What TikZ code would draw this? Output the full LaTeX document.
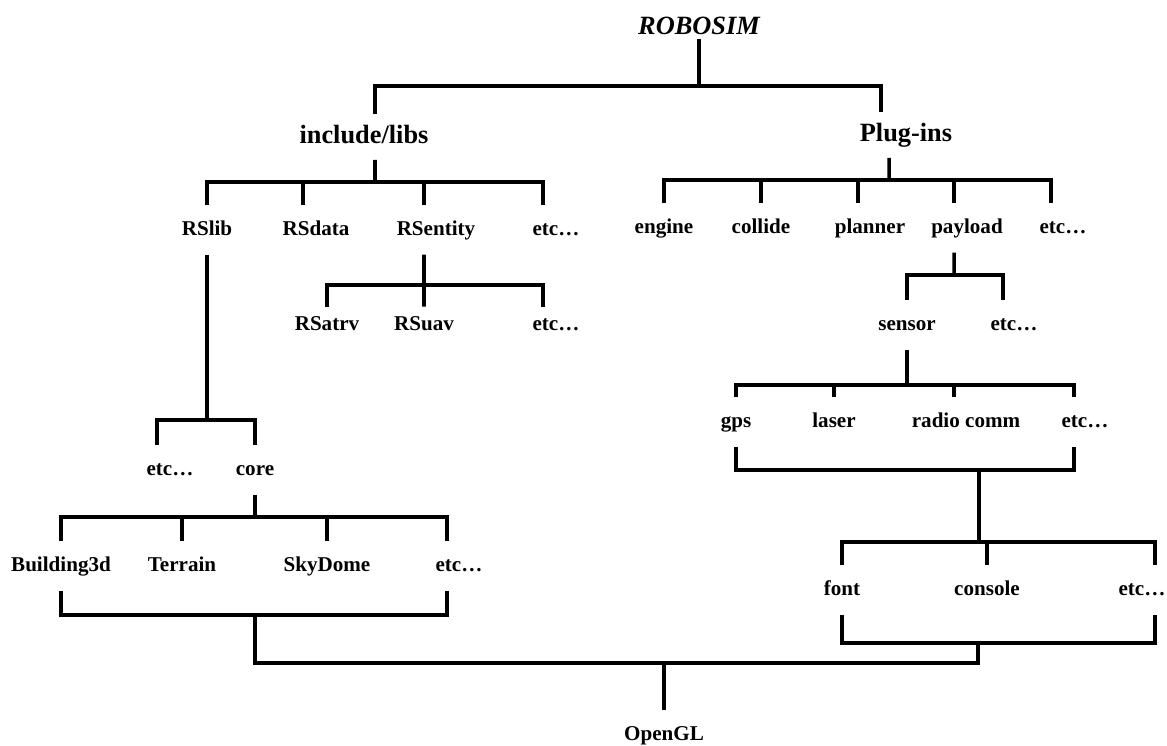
\documentclass[tikz,border=0pt]{standalone}
\usepackage{fontspec}
\setmainfont{Liberation Serif}

\begin{document}
\begin{tikzpicture}[x=0.02cm,y=-0.02cm,line width=2pt]
    \tikzstyle{lbl}=[font=\fontsize{12}{14}\selectfont\bfseries, inner sep=0pt, text height=8.5pt, text depth=2.5pt, minimum height=26pt]
    \tikzstyle{head}=[font=\fontsize{15}{18}\selectfont\bfseries, inner sep=0pt, text height=10.5pt, text depth=3pt, minimum height=24pt]
    \useasboundingbox (0,0) rectangle (1167,745);

    % root and first level
    \node[head, font=\fontsize{15}{18}\selectfont\bfseries\itshape, minimum height=0pt, text depth=0pt, inner sep=1.5pt] (robosim) at (699,25) {ROBOSIM};
    \node[head] (libs)    at (364,137) {include/libs};
    \node[head] (plugins) at (906,135) {Plug-ins};

    % include/libs branch
    \node[lbl] (rslib)    at (207,230) {RSlib};
    \node[lbl] (rsdata)   at (316,230) {RSdata};
    \node[lbl] (rsentity) at (436,230) {RSentity};
    \node[lbl] (etcA)     at (556,230) {etc…};
    \node[lbl, minimum height=19pt] (rsatrv) at (327,325) {RSatrv};
    \node[lbl, minimum height=19pt] (rsuav)  at (424,325) {RSuav};
    \node[lbl, minimum height=19pt] (etcB)   at (556,325) {etc…};
    \node[lbl] (etcG)     at (170,470) {etc…};
    \node[lbl] (core)     at (255,470) {core};
    \node[lbl] (bld)      at (61,566)  {Building3d};
    \node[lbl] (terrain)  at (182,566) {Terrain};
    \node[lbl] (skydome)  at (327,566) {SkyDome};
    \node[lbl] (etcH)     at (459,566) {etc…};

    % Plug-ins branch
    \node[lbl] (engine)   at (664,228)  {engine};
    \node[lbl] (collide)  at (761,228)  {collide};
    \node[lbl] (planner)  at (870,228)  {planner};
    \node[lbl] (payload)  at (967,228)  {payload};
    \node[lbl] (etcC)     at (1063,228) {etc…};
    \node[lbl] (sensor)   at (907,325)  {sensor};
    \node[lbl] (etcD)     at (1014,325) {etc…};
    \node[lbl] (gps)      at (736,422)  {gps};
    \node[lbl] (laser)    at (834,422)  {laser};
    \node[lbl] (radio)    at (966,422)  {radio comm};
    \node[lbl] (etcE)     at (1085,422) {etc…};
    \node[lbl] (font)     at (842,590)  {font};
    \node[lbl] (console)  at (987,590)  {console};
    \node[lbl] (etcF)     at (1142,590) {etc…};

    \node[lbl] (opengl)   at (664,735)  {OpenGL};

    % bar junctions
    \coordinate (top) at (699,86);
    \coordinate (b1)  at (375,182);
    \coordinate (b2)  at (424,285);
    \coordinate (b3)  at (889,180);
    \coordinate (b4)  at (954,275);
    \coordinate (b5)  at (907,385);
    \coordinate (b6)  at (979,470);
    \coordinate (b7)  at (979,542);
    \coordinate (b8)  at (978,643);
    \coordinate (b9)  at (207,420);
    \coordinate (b10) at (255,517);
    \coordinate (b11) at (255,615);
    \coordinate (gl)  at (664,663);

    % connectors
    \draw (robosim.south) -- (top);
    \draw ([xshift=0.22cm]libs.north) |- (top) -| ([xshift=-0.5cm]plugins.north);

    \draw ([xshift=0.22cm]libs.south) -- (b1);
    \draw (rslib.north) |- (b1) -| ([xshift=-0.26cm]etcA.north);
    \draw (b1) -| ([xshift=-0.26cm]rsdata.north);
    \draw (b1) -| ([xshift=-0.24cm]rsentity.north);

    \draw ([xshift=-0.24cm]rsentity.south) -- (rsuav.north);
    \draw (rsatrv.north) |- (b2) -| ([xshift=-0.26cm]etcB.north);

    \draw (rslib.south) -- (b9);
    \draw ([xshift=-0.26cm]etcG.north) |- (b9) -| (core.north);
    \draw (core.south) -- (b10);
    \draw (bld.north) |- (b10) -| ([xshift=-0.24cm]etcH.north);
    \draw (b10) -| (terrain.north);
    \draw (b10) -| (skydome.north);
    \draw (bld.south) |- (b11) -| ([xshift=-0.24cm]etcH.south);

    \draw ([xshift=-0.34cm]plugins.south) -- (b3);
    \draw (engine.north) |- (b3) -| ([xshift=-0.24cm]etcC.north);
    \draw (b3) -| (collide.north);
    \draw (b3) -| ([xshift=-0.24cm]planner.north);
    \draw (b3) -| ([xshift=-0.26cm]payload.north);

    \draw ([xshift=-0.26cm]payload.south) -- (b4);
    \draw (sensor.north) |- (b4) -| ([xshift=-0.22cm]etcD.north);

    \draw (sensor.south) -- (b5);
    \draw (gps.north) |- (b5) -| ([xshift=-0.22cm]etcE.north);
    \draw (b5) -| (laser.north);
    \draw (b5) -| ([xshift=-0.24cm]radio.north);
    \draw (gps.south) |- (b6) -| ([xshift=-0.22cm]etcE.south);
    \draw (b6) -- (b7);
    \draw (font.north) |- (b7) -| ([xshift=0.26cm]etcF.north);
    \draw (b7) -| (console.north);
    \draw (font.south) |- (b8) -| ([xshift=0.26cm]etcF.south);

    \draw (b11) |- (gl);
    \draw (b8) |- (gl);
    \draw (gl) -- (opengl.north);
\end{tikzpicture}
\end{document}
